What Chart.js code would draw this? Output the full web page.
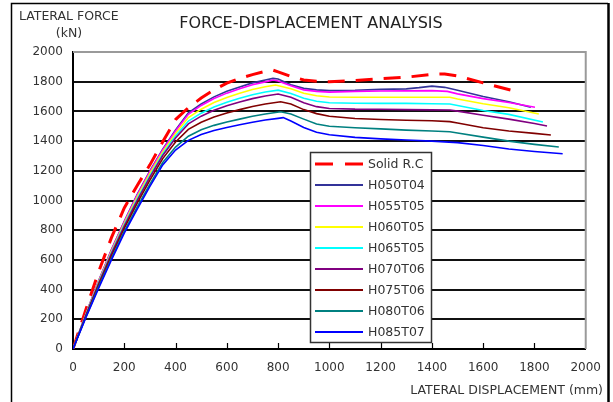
<!DOCTYPE html>
<html>
<head>
<meta charset="utf-8">
<script src="https://cdn.jsdelivr.net/npm/chart.js@4.4.1/dist/chart.umd.min.js"></script>
<style>
  html, body { margin: 0; padding: 0; background: #fff; }
  #wrap { position: relative; width: 613px; height: 402px; }
</style>
</head>
<body>
<div id="wrap"><canvas id="c" width="613" height="402"></canvas></div>
<script>
// ---------- data (displacement mm, lateral force kN) ----------
const seriesNames = ["Solid R.C", "H050T04", "H055T05", "H060T05", "H065T05", "H070T06", "H075T06", "H080T06", "H085T07"];

const dispSolid  = [0,50,100,150,200,250,300,350,400,450,500,550,600,650,700,750,780,800,850,900,950,1000,1100,1200,1300,1400,1450,1500,1600,1710];
const forceSolid = [0,265,520,750,950,1100,1240,1395,1545,1625,1690,1745,1790,1822,1848,1870,1878,1866,1835,1812,1803,1800,1808,1820,1830,1850,1852,1838,1792,1742];

const dispH050T04  = [0,50,100,150,200,250,300,350,400,450,500,550,600,650,700,750,780,800,850,900,950,1000,1100,1200,1300,1350,1400,1450,1500,1600,1700,1786];
const forceH050T04 = [0,235,460,670,860,1040,1200,1345,1475,1590,1650,1698,1735,1765,1792,1812,1822,1818,1780,1755,1745,1740,1742,1748,1752,1760,1770,1762,1742,1700,1665,1628];

const dispH055T05  = [0,50,100,150,200,250,300,350,400,450,500,550,600,650,700,750,780,800,850,900,950,1000,1100,1200,1300,1400,1460,1500,1600,1700,1802];
const forceH055T05 = [0,234,458,667,856,1035,1195,1340,1468,1581,1640,1687,1723,1752,1779,1799,1811,1805,1772,1745,1735,1730,1735,1737,1738,1740,1735,1718,1686,1660,1628];

const dispH060T05  = [0,50,100,150,200,250,300,350,400,450,500,550,600,650,700,750,790,850,900,950,1000,1100,1200,1300,1400,1470,1500,1600,1700,1817];
const forceH060T05 = [0,231,452,658,846,1023,1182,1327,1452,1559,1615,1660,1694,1722,1747,1766,1778,1752,1722,1705,1697,1695,1695,1695,1695,1695,1683,1652,1625,1582];

const dispH065T05  = [0,50,100,150,200,250,300,350,400,450,500,550,600,650,700,750,800,850,900,950,1000,1100,1200,1300,1400,1470,1500,1600,1700,1833];
const forceH065T05 = [0,228,445,649,836,1010,1168,1313,1435,1535,1588,1630,1662,1688,1712,1731,1743,1720,1688,1668,1658,1655,1654,1654,1652,1650,1640,1606,1580,1529];

const dispH070T06  = [0,50,100,150,200,250,300,350,400,450,500,550,600,650,700,750,800,850,900,950,1000,1100,1200,1300,1400,1470,1500,1600,1700,1800,1849];
const forceH070T06 = [0,225,440,642,828,1000,1158,1303,1421,1516,1568,1608,1638,1663,1686,1704,1717,1695,1658,1632,1620,1615,1614,1612,1610,1609,1602,1574,1548,1518,1502];

const dispH075T06  = [0,50,100,150,200,250,300,350,400,450,500,550,600,650,700,750,810,850,900,950,1000,1100,1200,1300,1400,1470,1500,1600,1700,1800,1864];
const forceH075T06 = [0,220,430,628,812,980,1137,1282,1394,1479,1527,1562,1589,1612,1633,1650,1665,1650,1612,1585,1567,1552,1545,1540,1537,1531,1522,1490,1468,1452,1441];

const dispH080T06  = [0,50,100,150,200,250,300,350,400,450,500,550,600,650,700,750,810,850,900,950,1000,1100,1200,1300,1400,1470,1500,1600,1700,1800,1895];
const forceH080T06 = [0,214,418,610,792,955,1110,1256,1360,1433,1476,1506,1528,1548,1567,1582,1598,1582,1548,1515,1500,1490,1482,1474,1468,1463,1455,1427,1400,1378,1360];

const dispH085T07  = [0,50,100,150,200,250,300,350,400,450,500,550,600,650,700,750,800,820,850,900,950,1000,1100,1200,1300,1400,1500,1600,1700,1800,1910];
const forceH085T07 = [0,210,410,600,780,940,1095,1240,1340,1405,1445,1472,1492,1510,1527,1542,1553,1558,1535,1492,1460,1443,1425,1415,1407,1400,1390,1370,1347,1330,1315];

const xTickValues = [0,200,400,600,800,1000,1200,1400,1600,1800,2000];
const yTickValues = [0,200,400,600,800,1000,1200,1400,1600,1800,2000];

const chartTitle = "FORCE-DISPLACEMENT ANALYSIS";
const yTitleLines = ["LATERAL FORCE", "(kN)"];
const xTitle = "LATERAL DISPLACEMENT (mm)";

// ---------- styles ----------
const seriesColors = ["#FF0000", "#333399", "#FF00FF", "#FFFF00", "#00FFFF", "#800080", "#800000", "#008080", "#0000FF"];
const FONT = "'DejaVu Sans', sans-serif";

function pts(xs, ys) { return xs.map((x, i) => ({ x: x, y: ys[i] })); }

const allData = [
  pts(dispSolid, forceSolid),
  pts(dispH050T04, forceH050T04),
  pts(dispH055T05, forceH055T05),
  pts(dispH060T05, forceH060T05),
  pts(dispH065T05, forceH065T05),
  pts(dispH070T06, forceH070T06),
  pts(dispH075T06, forceH075T06),
  pts(dispH080T06, forceH080T06),
  pts(dispH085T07, forceH085T07)
];

const datasets = allData.map((d, i) => ({
  label: seriesNames[i],
  data: d,
  showLine: true,
  borderColor: seriesColors[i],
  backgroundColor: seriesColors[i],
  borderWidth: i === 0 ? 3 : 1.6,
  borderDash: i === 0 ? [17, 11] : [],
  pointRadius: 0,
  pointHoverRadius: 0,
  tension: 0,
  fill: false,
  order: 20 - i
}));

const decor = {
  id: 'decor',
  beforeDatasetsDraw(chart) {
    const { ctx, chartArea: a } = chart;
    ctx.save();
    ctx.strokeStyle = '#9a9a9a';
    ctx.lineWidth = 2;
    ctx.beginPath();
    ctx.moveTo(a.left, a.top);
    ctx.lineTo(a.right, a.top);
    ctx.lineTo(a.right, a.bottom);
    ctx.stroke();
    ctx.restore();
  },
  afterDraw(chart) {
    const { ctx, chartArea: a, scales } = chart;
    ctx.save();
    // outer frame
    ctx.strokeStyle = '#000';
    ctx.lineWidth = 1.5;
    ctx.beginPath();
    ctx.moveTo(11.5, 420);
    ctx.lineTo(11.5, 3.5);
    ctx.lineTo(608, 3.5);
    ctx.stroke();
    ctx.lineWidth = 2.5;
    ctx.beginPath();
    ctx.moveTo(608.5, 3);
    ctx.lineTo(608.5, 420);
    ctx.stroke();

    // inward x ticks
    ctx.strokeStyle = '#000';
    ctx.lineWidth = 1.2;
    xTickValues.forEach(v => {
      if (v === 0 || v === 2000) return;
      const px = Math.round(scales.x.getPixelForValue(v)) + 0.5;
      ctx.beginPath();
      ctx.moveTo(px, a.bottom);
      ctx.lineTo(px, a.bottom - 6);
      ctx.stroke();
    });

    // titles
    ctx.fillStyle = '#222';
    ctx.font = '16px ' + FONT;
    ctx.textAlign = 'center';
    ctx.textBaseline = 'alphabetic';
    ctx.fillText(chartTitle, 311, 28);

    ctx.fillStyle = '#333';
    ctx.font = '12.5px ' + FONT;
    ctx.textAlign = 'left';
    ctx.fillText(yTitleLines[0], 19, 20);
    ctx.textAlign = 'center';
    ctx.fillText(yTitleLines[1], 69, 37);
    ctx.textAlign = 'right';
    ctx.fillText(xTitle, 603, 394);

    // legend
    const lx = 310, ly = 152, lw = 121, lh = 190;
    ctx.fillStyle = '#fff';
    ctx.fillRect(lx, ly, lw, lh);
    ctx.strokeStyle = '#333';
    ctx.lineWidth = 1.5;
    ctx.strokeRect(lx + 0.5, ly + 0.5, lw, lh);
    chart.data.datasets.forEach((ds, i) => {
      const y = 164 + i * 21;
      ctx.strokeStyle = ds.borderColor;
      ctx.lineWidth = i === 0 ? 3 : 2;
      ctx.setLineDash(i === 0 ? [18, 12] : []);
      ctx.beginPath();
      ctx.moveTo(315, y);
      ctx.lineTo(363, y);
      ctx.stroke();
      ctx.setLineDash([]);
      ctx.fillStyle = '#333';
      ctx.font = '12.5px ' + FONT;
      ctx.textAlign = 'left';
      ctx.textBaseline = 'middle';
      ctx.fillText(ds.label, 368, y + 0.5);
    });
    ctx.restore();
  }
};

new Chart(document.getElementById('c'), {
  type: 'scatter',
  data: { datasets: datasets },
  options: {
    responsive: false,
    animation: false,
    events: [],
    layout: { padding: { left: 0, top: 52, right: 24, bottom: 0 } },
    plugins: { legend: { display: false }, title: { display: false }, tooltip: { enabled: false } },
    scales: {
      x: {
        type: 'linear',
        min: 0, max: 2000,
        afterBuildTicks(s) { s.ticks = xTickValues.map(v => ({ value: v })); },
        afterFit(s) { s.height = 53; },
        grid: { display: false, drawTicks: false },
        border: { display: true, color: '#000', width: 2 },
        ticks: { color: '#333', font: { family: FONT, size: 12 }, padding: 12, maxRotation: 0, autoSkip: false,
                 callback: v => String(v) }
      },
      y: {
        type: 'linear',
        min: 0, max: 2000,
        afterBuildTicks(s) { s.ticks = yTickValues.map(v => ({ value: v })); },
        afterFit(s) { s.width = 73; },
        grid: {
          drawTicks: false,
          lineWidth: 2,
          color: c => (c.tick && (c.tick.value === 0 || c.tick.value === 2000)) ? 'rgba(0,0,0,0)' : '#111'
        },
        border: { display: true, color: '#000', width: 2 },
        ticks: { color: '#333', font: { family: FONT, size: 12 }, padding: 10, autoSkip: false,
                 callback: v => String(v) }
      }
    }
  },
  plugins: [decor]
});
</script>
</body>
</html>
